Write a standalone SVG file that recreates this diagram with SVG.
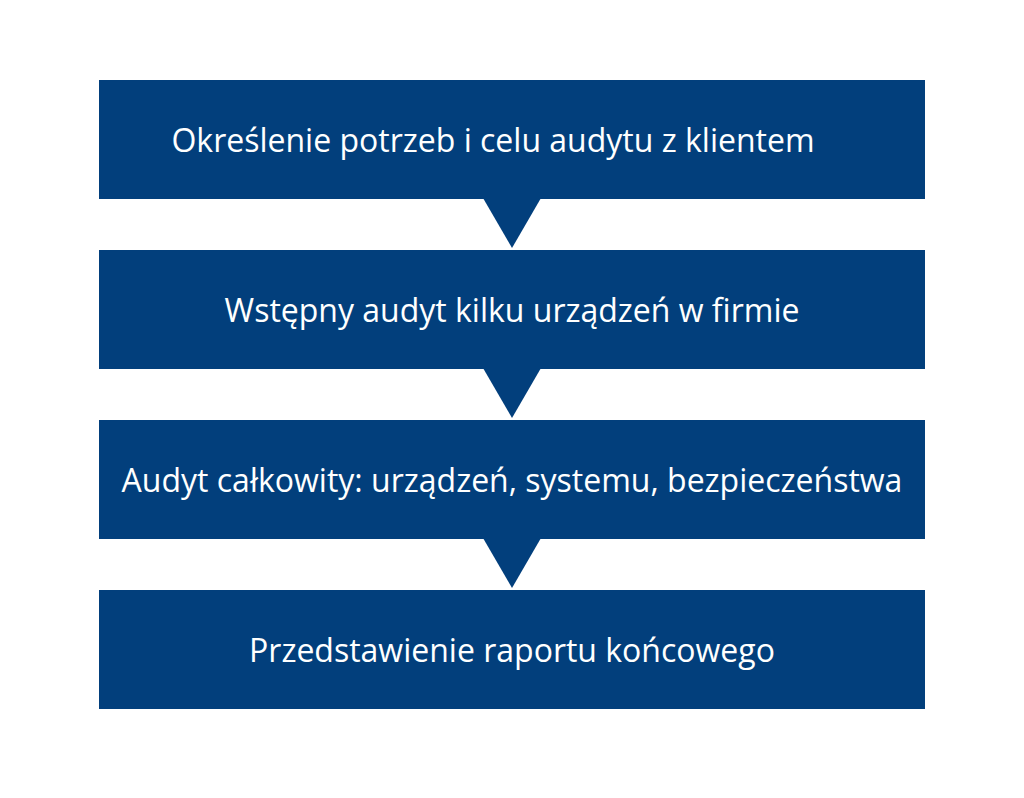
<svg xmlns="http://www.w3.org/2000/svg" width="1024" height="798" viewBox="0 0 1024 798">
<style>
.box{fill:#023f7c}
.arr{fill:#023f7c}
.t{font-family:"Open Sans","Noto Sans",sans-serif;font-size:32px;fill:#ffffff;text-anchor:middle}
</style>
<rect width="1024" height="798" fill="#ffffff"/>
<g id="connectors">
<polygon class="arr" points="483,198 541,198 512,248"/>
<polygon class="arr" points="483,368 541,368 512,418"/>
<polygon class="arr" points="483,538 541,538 512,588"/>
</g>
<g id="n1"><rect class="box" x="99" y="80" width="826" height="119"/><text class="t" x="493" y="152">Określenie potrzeb i celu audytu z klientem</text></g>
<g id="n2"><rect class="box" x="99" y="250" width="826" height="119"/><text class="t" x="512" y="322">Wstępny audyt kilku urządzeń w firmie</text></g>
<g id="n3"><rect class="box" x="99" y="420" width="826" height="119"/><text class="t" x="512" y="492">Audyt całkowity: urządzeń, systemu, bezpieczeństwa</text></g>
<g id="n4"><rect class="box" x="99" y="590" width="826" height="119"/><text class="t" x="512" y="662">Przedstawienie raportu końcowego</text></g>
</svg>
